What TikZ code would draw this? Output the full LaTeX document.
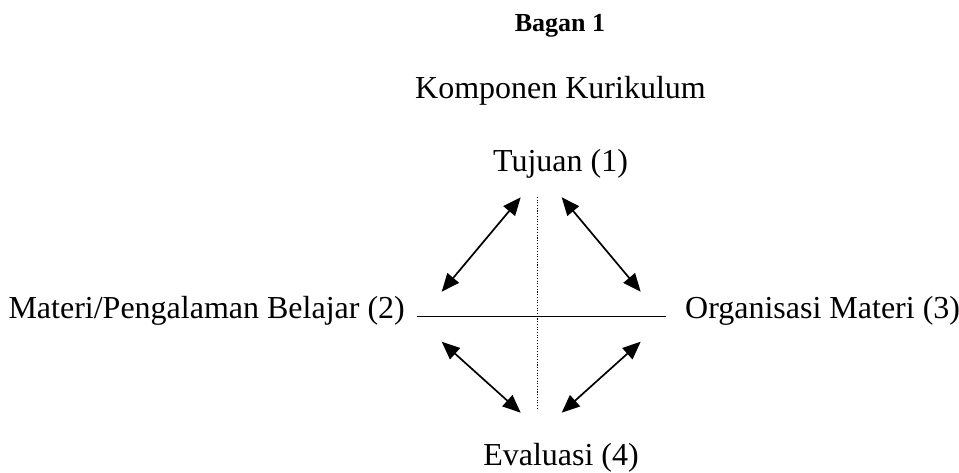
\documentclass[tikz,border=0pt]{standalone}
\usepackage{fontspec}
\setmainfont{Liberation Serif}
\usetikzlibrary{arrows.meta}
\begin{document}
\begin{tikzpicture}[x=1pt,y=-1pt,
  lbl/.style={inner sep=0pt, font=\fontsize{32}{38}\selectfont},
  ttl/.style={inner sep=0pt, font=\fontsize{26}{31}\selectfont\bfseries},
  biarrow/.style={line width=1.7pt, {Triangle[length=18pt,width=15pt]}-{Triangle[length=18pt,width=15pt]}},
  axis/.style={line width=1.4pt},
  dotaxis/.style={line width=1.1pt, dash pattern=on 1.1pt off 1.6pt}]
\useasboundingbox (0,0) rectangle (959,473);
\node[ttl, anchor=base] (bagan) at (560,32) {Bagan 1};
\node[lbl, anchor=base] (komp) at (560.5,99) {Komponen Kurikulum};
\node[lbl, anchor=base] (tuj) at (560.5,172) {Tujuan (1)};
\node[lbl, anchor=base east] (mat) at (405,318) {Materi/Pengalaman Belajar (2)};
\node[lbl, anchor=base west] (org) at (685,318) {Organisasi Materi (3)};
\node[lbl, anchor=base] (eva) at (561,465) {Evaluasi (4)};
\coordinate (hl) at (416.7,316.7);
\coordinate (hr) at (665.7,316.7);
\coordinate (vt) at (537.3,197);
\coordinate (vb) at (537.3,410);
\coordinate (tl) at (520.7,197.3);
\coordinate (tr) at (561.7,197.3);
\coordinate (ml) at (441.7,291.7);
\coordinate (mr) at (640.7,291.7);
\coordinate (nl) at (441.7,341.7);
\coordinate (nr) at (640.7,341.7);
\coordinate (bl) at (520.7,412.7);
\coordinate (br) at (561.7,412.7);
\draw[axis] (hl) -- (hr);
\draw[dotaxis] (vt) -- (vb);
\draw[biarrow] (ml) -- (tl);
\draw[biarrow] (tr) -- (mr);
\draw[biarrow] (nl) -- (bl);
\draw[biarrow] (nr) -- (br);
\end{tikzpicture}
\end{document}
